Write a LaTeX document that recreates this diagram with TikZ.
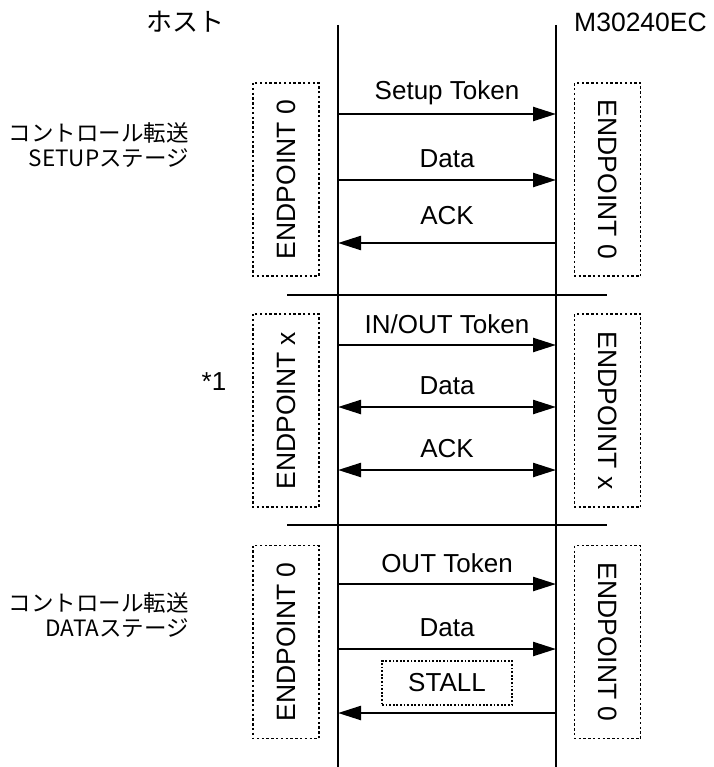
\documentclass[tikz,border=0pt]{standalone}
\usepackage{fontspec}
\setmainfont{Liberation Sans}
\newfontfamily\jpfont{Noto Sans CJK JP}
\usetikzlibrary{arrows.meta}
\tikzset{
  life/.style={line width=2.3pt},
  sep/.style={line width=2.3pt},
  msg/.style={line width=2.3pt,-{Triangle[length=23pt,width=14pt]}},
  bimsg/.style={line width=2.3pt,{Triangle[length=23pt,width=14pt]}-{Triangle[length=23pt,width=14pt]}},
  lbl/.style={font=\fontsize{26}{30}\selectfont, yshift=21pt},
  epbox/.style={draw, line width=1.8pt, dash pattern=on 2.4pt off 2.4pt, minimum width=193pt, minimum height=66pt, inner sep=0pt, font=\fontsize{26.5}{30}\selectfont},
  jplbl/.style={font=\jpfont\fontsize{22.5}{25}\selectfont, align=right, anchor=east, inner sep=0pt}
}
\begin{document}
\begin{tikzpicture}[x=1pt,y=-1pt]
\useasboundingbox (0,0) rectangle (713,767);
% headers
\node[font=\jpfont\fontsize{26}{30}\selectfont] (host) at (185,22) {ホスト};
\node[font=\fontsize{26.5}{30}\selectfont, anchor=west, inner sep=0pt] (dev) at (574,22) {M30240EC};
% lifelines
\coordinate (hT) at (338,25); \coordinate (hB) at (338,767);
\coordinate (dT) at (556,25); \coordinate (dB) at (556,767);
\draw[life] (hT) -- (hB);
\draw[life] (dT) -- (dB);
% separators
\coordinate (s1a) at (287,295); \coordinate (s1b) at (607,295);
\coordinate (s2a) at (287,525); \coordinate (s2b) at (607,525);
\draw[sep] (s1a) -- (s1b);
\draw[sep] (s2a) -- (s2b);
% section 1
\node[epbox, rotate=90] (ep1l) at (286,179.5) {ENDPOINT 0};
\node[epbox, rotate=-90] (ep1r) at (607.5,179.5) {ENDPOINT 0};
\coordinate (h1) at (338,114); \coordinate (d1) at (556,114);
\coordinate (h2) at (338,180); \coordinate (d2) at (556,180);
\coordinate (h3) at (338,243); \coordinate (d3) at (556,243);
\draw[msg] (h1) -- node[lbl] (l1) {Setup Token} (d1);
\draw[msg] (h2) -- node[lbl] (l2) {Data} (d2);
\draw[msg] (d3) -- node[lbl, yshift=6pt] (l3) {ACK} (h3);
\node[jplbl] (t1) at (189,145) {コントロール転送\\SETUPステージ};
% section 2
\node[epbox, rotate=90] (ep2l) at (286,410.5) {ENDPOINT x};
\node[epbox, rotate=-90] (ep2r) at (607.5,410.5) {ENDPOINT x};
\coordinate (h4) at (338,345); \coordinate (d4) at (556,345);
\coordinate (h5) at (338,407); \coordinate (d5) at (556,407);
\coordinate (h6) at (338,470); \coordinate (d6) at (556,470);
\draw[msg] (h4) -- node[lbl] (l4) {IN/OUT Token} (d4);
\draw[bimsg] (h5) -- node[lbl] (l5) {Data} (d5);
\draw[bimsg] (h6) -- node[lbl] (l6) {ACK} (d6);
\node[font=\fontsize{26}{30}\selectfont] (star) at (214,382) {*1};
% section 3
\node[epbox, rotate=90] (ep3l) at (286,642) {ENDPOINT 0};
\node[epbox, rotate=-90] (ep3r) at (607.5,642) {ENDPOINT 0};
\coordinate (h7) at (338,584); \coordinate (d7) at (556,584);
\coordinate (h8) at (338,649); \coordinate (d8) at (556,649);
\coordinate (h9) at (338,713); \coordinate (d9) at (556,713);
\draw[msg] (h7) -- node[lbl] (l7) {OUT Token} (d7);
\draw[msg] (h8) -- node[lbl] (l8) {Data} (d8);
\draw[msg] (d9) -- (h9);
\node[draw, line width=1.5pt, dash pattern=on 1.8pt off 1.8pt, minimum width=130pt, minimum height=44pt, inner sep=0pt, font=\fontsize{26}{30}\selectfont] (stall) at (447,683) {STALL};
\node[jplbl] (t3) at (189,615) {コントロール転送\\DATAステージ};
\end{tikzpicture}
\end{document}
